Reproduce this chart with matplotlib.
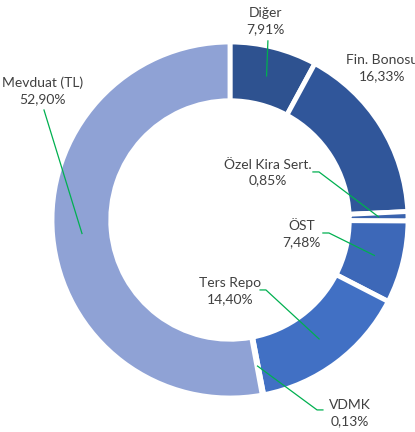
import numpy as np
import matplotlib
matplotlib.use("Agg")
import matplotlib.pyplot as plt

plt.rcParams['font.family'] = ['Lato', 'DejaVu Sans']

labels = ["Diğer", "Fin. Bonosu", "Özel Kira Sert.", "ÖST", "Ters Repo", "VDMK", "Mevduat (TL)"]
values = [7.91, 16.33, 0.85, 7.48, 14.40, 0.13, 52.90]
colors = ["#2E5290", "#30569A", "#3A63AE", "#3D68B8", "#4170C4", "#4472C4", "#8FA2D5"]

# label text positions (data units, radius = 1)
text_pos = [(0.197, 1.118), (0.854, 0.854), (0.213, 0.267), (0.404, -0.079),
            (0.0, -0.399), (0.674, -1.084), (-1.051, 0.725)]
# leader path from label side (None = no leader)
leader = [[(0.213, 1.006)],
          None,
          [(0.466, 0.270), (0.50, 0.270)],
          [(0.522, -0.073), (0.556, -0.073)],
          [(0.169, -0.393), (0.202, -0.393)],
          [(0.522, -1.067), (0.489, -1.067)],
          [(-1.045, 0.618)]]

fig = plt.figure(figsize=(4.15, 4.32), dpi=100)
ax = fig.add_axes([0, 0, 1, 1])
wedges, _ = ax.pie(values, colors=colors, startangle=90, counterclock=False,
                   radius=1, wedgeprops=dict(width=0.33, edgecolor="white", linewidth=3.5))
ax.set_xlim(-230/178, (415-230)/178)
ax.set_ylim(-(432-220)/178, 220/178)
ax.set_aspect("equal")
ax.axis("off")

for w, lab, v, tp, ld in zip(wedges, labels, values, text_pos, leader):
    txt = lab + "\n" + f"{v:.2f}".replace(".", ",") + "%"
    ax.text(tp[0], tp[1], txt, ha="center", va="center", fontsize=10,
            color="#404040", linespacing=1.35)
    if ld is None:
        continue
    ang = np.deg2rad((w.theta1 + w.theta2) / 2)
    anchor = (0.835 * np.cos(ang), 0.835 * np.sin(ang))
    pts = ld + [anchor]
    xs = [p[0] for p in pts]
    ys = [p[1] for p in pts]
    ax.plot(xs, ys, color="#00B050", lw=0.9)

fig.savefig("out.png", dpi=100)
